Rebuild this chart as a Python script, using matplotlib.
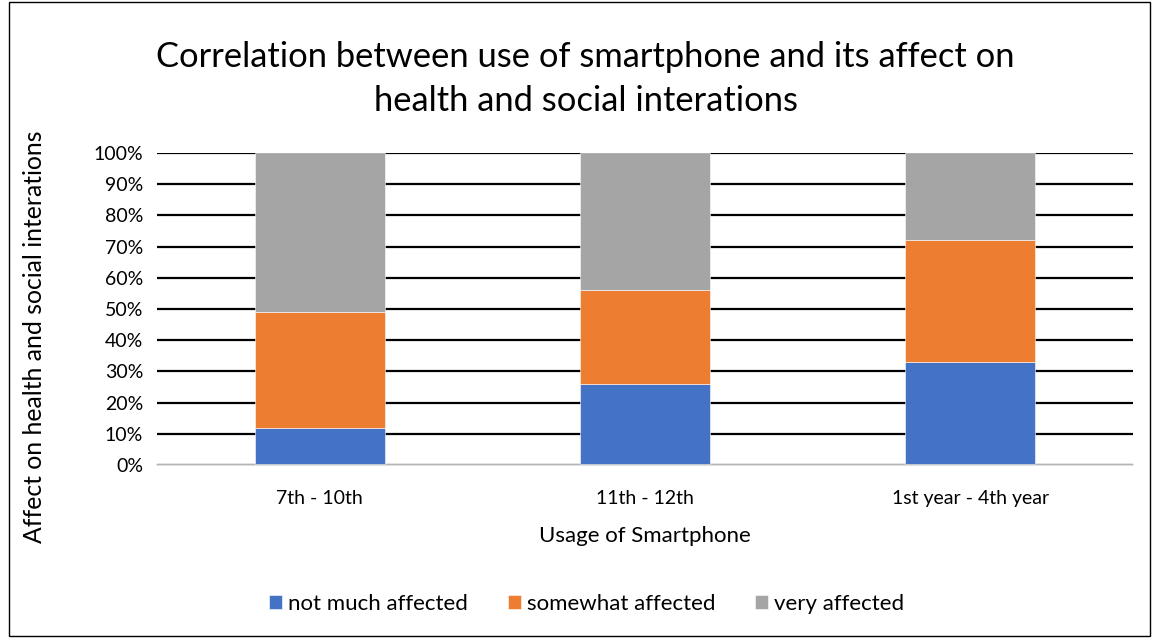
import numpy as np
import matplotlib
matplotlib.use('Agg')
from matplotlib import pyplot as plt
from matplotlib.patches import Rectangle

categories = ['7th - 10th', '11th - 12th', '1st year - 4th year']
not_much = [12, 26, 33]
somewhat = [37, 30, 39]
very = [51, 44, 28]
series_names = ['not much affected', 'somewhat affected', 'very affected']
colors = ['#4472C4', '#ED7D31', '#A5A5A5']

plt.rcParams['font.family'] = ['Lato', 'DejaVu Sans']

fig = plt.figure(figsize=(11.53, 6.38), dpi=100)
ax = fig.add_axes([157 / 1153, 1 - 465 / 638, 976 / 1153, 312 / 638])

x = np.arange(len(categories))
bottom = np.zeros(len(categories))
for vals, name, c in zip([not_much, somewhat, very], series_names, colors):
    ax.bar(x, vals, width=0.4, bottom=bottom, color=c, label=name, zorder=3,
           edgecolor='white', linewidth=0.4)
    bottom += np.array(vals)

ax.set_xlim(-0.5, 2.5)
ax.set_ylim(0, 100)
ax.set_yticks(np.arange(0, 101, 10))
ax.set_yticklabels([f'{v}%' for v in range(0, 101, 10)], fontsize=14)
ax.set_xticks(x)
ax.set_xticklabels(categories, fontsize=14)
ax.tick_params(axis='y', length=0, pad=10)
ax.tick_params(axis='x', length=0, pad=18)
ax.grid(axis='y', color='black', linewidth=1.6, zorder=0)
for s in ['top', 'right', 'left']:
    ax.spines[s].set_visible(False)
ax.spines['bottom'].set_color('#d9d9d9')
ax.spines['bottom'].set_linewidth(1.2)
ax.spines['bottom'].set_zorder(4)

ax.set_xlabel('Usage of Smartphone', fontsize=16, labelpad=14)
ax.set_ylabel('Affect on health and social interations', fontsize=17.8)
ax.yaxis.set_label_coords(-0.114, 0.41)

fig.text(0.508, 0.935, 'Correlation between use of smartphone and its affect on\nhealth and social interations',
         ha='center', va='top', fontsize=24.8, linespacing=1.45)

ax.legend(loc='upper center', bbox_to_anchor=(0.44, -0.35), ncol=3, frameon=False,
          fontsize=16, handlelength=0.6, handleheight=0.6, handletextpad=0.25, columnspacing=1.8)

fig.patches.append(Rectangle((9 / 1153, 2 / 638), 1141 / 1153, 634 / 638, transform=fig.transFigure,
                             fill=False, edgecolor='black', linewidth=1))

fig.savefig('out.png', dpi=100)
